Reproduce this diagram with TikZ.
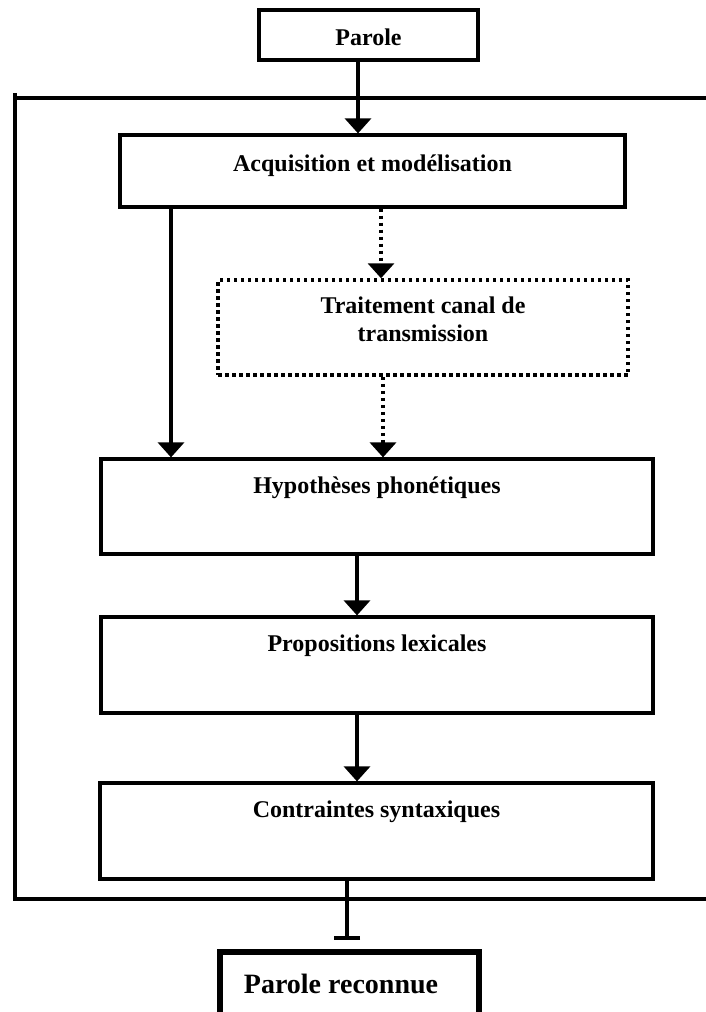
\documentclass[tikz,border=0pt]{standalone}
\usepackage{fontspec}
\setmainfont{Liberation Serif}
\usetikzlibrary{arrows.meta}
\tikzset{
  box/.style={draw, line width=3.2pt, inner sep=0pt},
  dotbox/.style={draw, line width=3.5pt, dash pattern=on 3.5pt off 3.5pt, inner sep=0pt},
  lbl/.style={anchor=base, inner sep=0pt, font=\fontsize{24}{28}\selectfont\bfseries},
  arr/.style={line width=3.2pt, -{Triangle[width=26pt,length=15pt]}},
  dotarr/.style={line width=3.5pt, dash pattern=on 3.5pt off 3.5pt, -{Triangle[width=26pt,length=15pt]}},
  frame/.style={line width=3.6pt}
}
\begin{document}
\begin{tikzpicture}[x=1pt,y=-1pt]
\useasboundingbox (0,0) rectangle (706,1012);
% frame
\draw[frame] (15,98) -- (706,98);
\draw[frame] (15,93) -- (15,899) -- (706,899);
% boxes
\node[box, minimum width=219pt, minimum height=50pt] (parole) at (368.5,35) {};
\node[box, minimum width=505pt, minimum height=72pt] (acq) at (372.5,171) {};
\node[dotbox, minimum width=410pt, minimum height=95pt] (trait) at (423,327.5) {};
\node[box, minimum width=552pt, minimum height=95pt] (hyp) at (377,506.5) {};
\node[box, minimum width=552pt, minimum height=96pt] (prop) at (377,665) {};
\node[box, minimum width=553pt, minimum height=96pt] (contr) at (376.5,831) {};
\node[draw, line width=6pt, inner sep=0pt, minimum width=259pt, minimum height=90pt] (pr) at (349.5,997) {};
% labels
\node[lbl] (tparole) at (368.5,45) {Parole};
\node[lbl] (tacq) at (372.5,171) {Acquisition et modélisation};
\node[lbl] (ttrait1) at (423,313) {Traitement canal de};
\node[lbl] (ttrait2) at (423,341) {transmission};
\node[lbl] (thyp) at (377,493) {Hypothèses phonétiques};
\node[lbl] (tprop) at (377,651) {Propositions lexicales};
\node[lbl] (tcontr) at (376.5,817) {Contraintes syntaxiques};
\node[anchor=base, inner sep=0pt, font=\fontsize{28}{32}\selectfont\bfseries] (tpr) at (341,993) {Parole reconnue};
% connectors
\draw[arr] ([xshift=-10.5pt]parole.south) -- ([xshift=-14.5pt]acq.north);
\draw[arr] ([xshift=-201.5pt]acq.south) -- ([xshift=-206pt]hyp.north);
\draw[dotarr] ([xshift=8.5pt]acq.south) -- ([xshift=-42pt]trait.north);
\draw[dotarr] ([xshift=-40pt]trait.south) -- ([xshift=6pt]hyp.north);
\draw[arr] ([xshift=-20pt]hyp.south) -- ([xshift=-20pt]prop.north);
\draw[arr] ([xshift=-20pt]prop.south) -- ([xshift=-19.5pt]contr.north);
\coordinate (barend) at (347,940);
\draw[line width=3.2pt, -{Bar[width=26pt,line width=4pt]}] ([xshift=-29.5pt]contr.south) -- (barend);
\end{tikzpicture}
\end{document}
